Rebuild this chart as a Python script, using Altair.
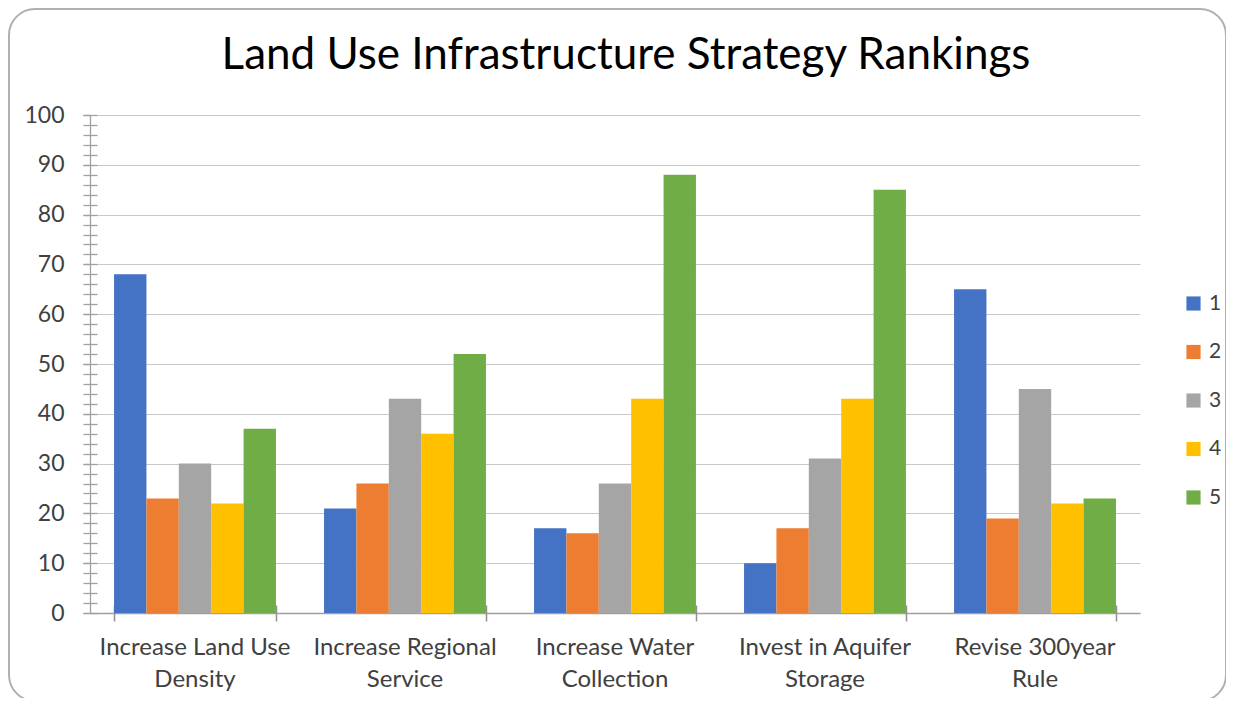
import json
import altair as alt
import pandas as pd

categories = ["Increase Land Use Density", "Increase Regional Service",
              "Increase Water Collection", "Invest in Aquifer Storage",
              "Revise 300year Rule"]
label_lines = [["Increase Land Use", "Density"], ["Increase Regional", "Service"],
               ["Increase Water", "Collection"], ["Invest in Aquifer", "Storage"],
               ["Revise 300year", "Rule"]]
series = ["1", "2", "3", "4", "5"]
values = {
    "1": [68, 21, 17, 10, 65],
    "2": [23, 26, 16, 17, 19],
    "3": [30, 43, 26, 31, 45],
    "4": [22, 36, 43, 43, 22],
    "5": [37, 52, 88, 85, 23],
}
colors = ["#4472C4", "#ED7D31", "#A5A5A5", "#FFC000", "#70AD47"]
title_text = "Land Use Infrastructure Strategy Rankings"

rows = []
for s in series:
    for c, v in zip(categories, values[s]):
        rows.append({"Strategy": c, "Rank": s, "Value": v})
df = pd.DataFrame(rows)

FONT = "Lato"
label_expr = " : ".join(
    f"datum.value == '{c}' ? {json.dumps(l)}" for c, l in zip(categories, label_lines)
) + " : datum.label"

xscale = alt.Scale(paddingInner=0.229, paddingOuter=0.1145)
yscale = alt.Scale(domain=[0, 100])

base = alt.Chart(df)

bars = base.mark_bar().encode(
    x=alt.X("Strategy:N", sort=categories, scale=xscale,
            axis=alt.Axis(title=None, orient="bottom", labelExpr=label_expr,
                          labelAngle=0, labelFont=FONT, labelFontSize=24,
                          labelColor="#404040", labelLineHeight=32,
                          labelPadding=22, labelBaseline="top",
                          domainColor="#A0A0A0", domainWidth=1.3, ticks=False,
                          labelLimit=400)),
    xOffset=alt.XOffset("Rank:N", sort=series, scale=alt.Scale(paddingInner=0)),
    y=alt.Y("Value:Q", scale=yscale,
            axis=alt.Axis(title=None, orient="left", values=list(range(0, 101, 10)),
                          labelFont=FONT, labelFontSize=23, labelColor="#404040",
                          labelPadding=19, gridColor="#C8C8C8", gridWidth=1.2,
                          domainColor="#A0A0A0", domainWidth=1.3,
                          tickColor="#A0A0A0", tickSize=7, tickWidth=1.3)),
    color=alt.Color("Rank:N", sort=series,
                    scale=alt.Scale(domain=series, range=colors),
                    legend=alt.Legend(title=None, orient="none", legendX=1093,
                                      legendY=178, symbolType="square",
                                      symbolSize=200, symbolStrokeWidth=0,
                                      labelFont=FONT, labelFontSize=21,
                                      labelColor="#404040", rowPadding=26.5,
                                      labelOffset=5, padding=0)),
)

minor_y = base.mark_bar(opacity=0).encode(
    x=alt.X("Strategy:N", sort=categories, scale=xscale, axis=None),
    y=alt.Y("Value:Q", scale=yscale,
            axis=alt.Axis(title=None, orient="left", values=list(range(0, 101, 2)),
                          labels=False, domain=False, grid=False,
                          tickColor="#A0A0A0", tickSize=14, tickWidth=1.3,
                          offset=-7)),
)

x_bound_ticks = base.mark_bar(opacity=0).encode(
    x=alt.X("Strategy:N", sort=categories, scale=xscale,
            axis=alt.Axis(title=None, orient="bottom", labels=False, domain=False,
                          grid=False, tickBand="extent", tickColor="#909090",
                          tickSize=16, tickWidth=1.5, offset=-8)),
    y=alt.Y("Value:Q", scale=yscale, axis=None),
)

x_mid_ticks = base.mark_bar(opacity=0).encode(
    x=alt.X("Strategy:N", sort=categories, scale=xscale,
            axis=alt.Axis(title=None, orient="bottom", labels=False, domain=False,
                          grid=False, tickColor="#909090", tickSize=8,
                          tickWidth=1.5, offset=-8)),
    y=alt.Y("Value:Q", scale=yscale, axis=None),
)

frame = alt.Chart(pd.DataFrame({"a": [0]})).mark_rect(
    fillOpacity=0, stroke="#B0B0B0", strokeWidth=2, cornerRadius=26
).encode(
    x=alt.value(-81), x2=alt.value(1136), y=alt.value(-106), y2=alt.value(586)
)

title = alt.Chart(pd.DataFrame({"t": [title_text]})).mark_text(
    font=FONT, fontSize=44, color="#000000", baseline="alphabetic", align="center"
).encode(text="t:N", x=alt.value(536), y=alt.value(-46))

chart = alt.layer(frame, bars, minor_y, x_bound_ticks, x_mid_ticks, title).resolve_axis(
    x="independent", y="independent"
).properties(
    width=1050, height=498,
    padding={"left": 82, "top": 107, "right": 86, "bottom": 85},
    autosize=alt.AutoSizeParams(type="none"),
).configure_view(stroke=None).configure_axis(gridDash=[])

chart.save("out.html", embed_options={"renderer": "svg", "actions": False})
